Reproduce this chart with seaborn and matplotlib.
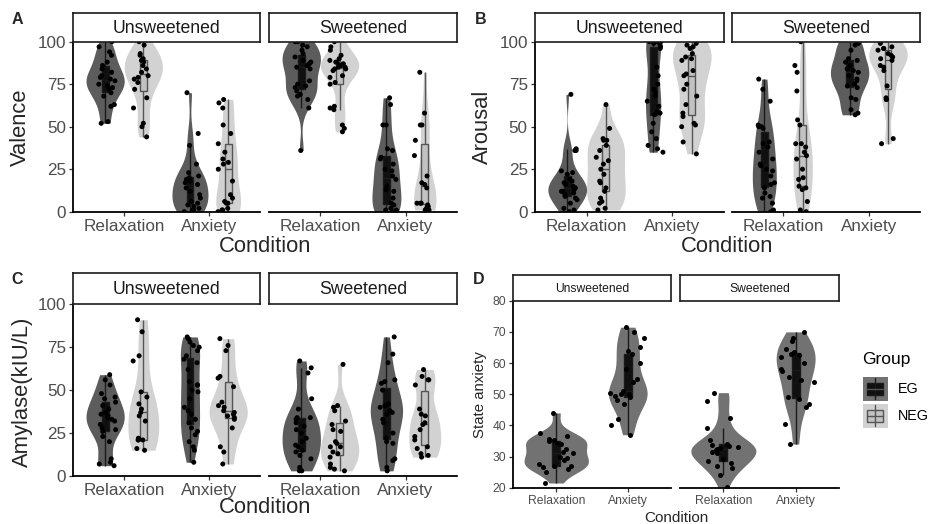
import numpy as np
import pandas as pd
import matplotlib
matplotlib.use('Agg')
import matplotlib.pyplot as plt
from matplotlib.patches import Rectangle
import seaborn as sns

conditions = ['Relaxation', 'Anxiety']
sweeteners = ['Unsweetened', 'Sweetened']
groups = ['EG', 'NEG']

# ---------------- Panel A: Valence ----------------
val_uns_rel_eg = [100, 97, 94, 92, 88, 86, 84, 82, 80, 79, 78, 77, 75, 74, 73, 72, 70, 68, 63, 62, 53, 52]
val_uns_rel_neg = [100, 98, 93, 92, 90, 89, 88, 86, 84, 82, 80, 79, 78, 76, 72, 67, 61, 52, 50, 44]
val_uns_anx_eg = [70, 46, 39, 28, 23, 21, 20, 19, 18, 17, 16, 14, 12, 10, 8, 6, 5, 4, 3, 2, 1, 1, 0]
val_uns_anx_neg = [66, 64, 61, 51, 46, 40, 35, 31, 29, 28, 25, 18, 10, 8, 6, 5, 5, 2, 1, 1, 0]
val_swe_rel_eg = [100, 100, 98, 97, 95, 93, 91, 89, 88, 87, 86, 85, 84, 77, 75, 74, 73, 71, 69, 68, 66, 61, 36]
val_swe_rel_neg = [100, 97, 95, 92, 90, 89, 88, 88, 87, 86, 86, 85, 85, 84, 84, 83, 80, 79, 76, 75, 62, 61, 60, 51, 49, 47]
val_swe_anx_eg = [67, 63, 51, 51, 37, 36, 32, 31, 28, 25, 24, 21, 19, 15, 13, 12, 8, 5, 4, 2, 1, 1, 0, 0]
val_swe_anx_neg = [82, 58, 51, 51, 42, 33, 21, 17, 16, 14, 5, 5, 5, 4, 3, 2, 1, 1]

# ---------------- Panel B: Arousal ----------------
aro_uns_rel_eg = [69, 37, 36, 36, 24, 23, 22, 19, 18, 17, 16, 15, 14, 14, 13, 12, 12, 11, 10, 9, 8, 7, 5, 2, 1, 0]
aro_uns_rel_neg = [63, 49, 43, 42, 42, 39, 36, 32, 30, 28, 25, 22, 18, 17, 14, 12, 8, 6, 5, 2, 1]
aro_uns_anx_eg = [100, 100, 100, 100, 99, 98, 97, 96, 85, 80, 75, 72, 70, 68, 65, 62, 59, 58, 57, 52, 47, 43, 39, 37, 35]
aro_uns_anx_neg = [100, 99, 98, 97, 96, 93, 91, 90, 89, 83, 81, 80, 75, 72, 68, 63, 58, 56, 52, 51, 50, 41, 34]
aro_swe_rel_eg = [78, 72, 65, 51, 50, 50, 49, 41, 40, 38, 35, 31, 28, 27, 25, 24, 21, 17, 16, 14, 11, 9, 8, 5, 1, 0]
aro_swe_rel_neg = [100, 86, 82, 71, 54, 51, 40, 40, 38, 35, 33, 31, 25, 20, 19, 15, 14, 13, 6, 1, 0]
aro_swe_anx_eg = [100, 100, 99, 98, 95, 90, 89, 88, 86, 84, 83, 82, 80, 78, 77, 75, 74, 73, 67, 66, 60, 58, 57]
aro_swe_anx_neg = [100, 99, 97, 96, 96, 95, 93, 92, 91, 90, 89, 86, 85, 83, 74, 67, 66, 66, 43, 40]

# ---------------- Panel C: Amylase ----------------
amy_uns_rel_eg = [59, 56, 53, 48, 46, 45, 43, 41, 39, 37, 36, 35, 34, 33, 32, 30, 28, 27, 26, 23, 20, 10, 8, 7, 6]
amy_uns_rel_neg = [91, 84, 70, 67, 49, 46, 42, 39, 37, 35, 32, 22, 21, 21, 21, 16, 15]
amy_uns_anx_eg = [81, 80, 78, 76, 75, 73, 70, 68, 66, 62, 55, 53, 53, 50, 49, 45, 40, 38, 36, 33, 31, 28, 26, 24, 20, 17, 15, 8]
amy_uns_anx_neg = [80, 76, 73, 58, 57, 52, 43, 41, 40, 38, 37, 36, 35, 34, 33, 28, 17, 14, 7]
amy_swe_rel_eg = [67, 63, 60, 45, 39, 34, 34, 33, 31, 29, 27, 25, 22, 20, 18, 17, 15, 14, 12, 10, 5, 3, 3]
amy_swe_rel_neg = [65, 41, 40, 38, 32, 30, 27, 26, 20, 19, 17, 17, 14, 13, 11, 7, 5, 4, 3]
amy_swe_anx_eg = [81, 71, 66, 56, 55, 54, 50, 42, 41, 41, 40, 38, 37, 36, 33, 31, 25, 22, 20, 19, 10, 9, 5, 3]
amy_swe_anx_neg = [62, 58, 56, 56, 53, 39, 36, 35, 31, 30, 27, 23, 21, 17, 16, 13, 12, 11]

# ---------------- Panel D: State anxiety (EG only) ----------------
sta_uns_rel_eg = [44, 37.5, 36.5, 35.5, 35.2, 35, 34.5, 34, 32.5, 31.5, 31, 30, 29.5, 29, 27.5, 27, 27, 26.5, 26, 25, 21.5]
sta_uns_anx_eg = [71.5, 70, 68, 65, 64, 63, 60, 58, 55, 54, 51, 50.5, 50, 50, 49.5, 49, 48, 47, 42, 40, 37]
sta_swe_rel_eg = [50.5, 47.8, 42.3, 39, 35.2, 34, 33.6, 33.3, 33, 32.7, 32.3, 32, 31.5, 31, 29.3, 28.5, 28, 27, 26.3, 24, 20.2]
sta_swe_anx_eg = [70, 68, 67, 64.5, 63.5, 63, 62.5, 62, 60, 58, 57.5, 55.5, 54.5, 54, 49, 48.5, 47, 46, 40.5, 34]


def frame(series):
    rows = []
    for (sw, cond, grp), vals in series.items():
        for v in vals:
            rows.append((sw, cond, grp, v))
    return pd.DataFrame(rows, columns=['Sweetener', 'Condition', 'Group', 'value'])


df_val = frame({
    ('Unsweetened', 'Relaxation', 'EG'): val_uns_rel_eg, ('Unsweetened', 'Relaxation', 'NEG'): val_uns_rel_neg,
    ('Unsweetened', 'Anxiety', 'EG'): val_uns_anx_eg, ('Unsweetened', 'Anxiety', 'NEG'): val_uns_anx_neg,
    ('Sweetened', 'Relaxation', 'EG'): val_swe_rel_eg, ('Sweetened', 'Relaxation', 'NEG'): val_swe_rel_neg,
    ('Sweetened', 'Anxiety', 'EG'): val_swe_anx_eg, ('Sweetened', 'Anxiety', 'NEG'): val_swe_anx_neg})
df_aro = frame({
    ('Unsweetened', 'Relaxation', 'EG'): aro_uns_rel_eg, ('Unsweetened', 'Relaxation', 'NEG'): aro_uns_rel_neg,
    ('Unsweetened', 'Anxiety', 'EG'): aro_uns_anx_eg, ('Unsweetened', 'Anxiety', 'NEG'): aro_uns_anx_neg,
    ('Sweetened', 'Relaxation', 'EG'): aro_swe_rel_eg, ('Sweetened', 'Relaxation', 'NEG'): aro_swe_rel_neg,
    ('Sweetened', 'Anxiety', 'EG'): aro_swe_anx_eg, ('Sweetened', 'Anxiety', 'NEG'): aro_swe_anx_neg})
df_amy = frame({
    ('Unsweetened', 'Relaxation', 'EG'): amy_uns_rel_eg, ('Unsweetened', 'Relaxation', 'NEG'): amy_uns_rel_neg,
    ('Unsweetened', 'Anxiety', 'EG'): amy_uns_anx_eg, ('Unsweetened', 'Anxiety', 'NEG'): amy_uns_anx_neg,
    ('Sweetened', 'Relaxation', 'EG'): amy_swe_rel_eg, ('Sweetened', 'Relaxation', 'NEG'): amy_swe_rel_neg,
    ('Sweetened', 'Anxiety', 'EG'): amy_swe_anx_eg, ('Sweetened', 'Anxiety', 'NEG'): amy_swe_anx_neg})
df_sta = frame({
    ('Unsweetened', 'Relaxation', 'EG'): sta_uns_rel_eg, ('Unsweetened', 'Anxiety', 'EG'): sta_uns_anx_eg,
    ('Sweetened', 'Relaxation', 'EG'): sta_swe_rel_eg, ('Sweetened', 'Anxiety', 'EG'): sta_swe_anx_eg})

# ---------------- styling ----------------
sns.set_style('white')
plt.rcParams['font.family'] = ['Liberation Sans', 'DejaVu Sans']

VIO = {'EG': '#5c5c5c', 'NEG': '#d2d2d2'}
BOX = {'EG': '#101010', 'NEG': '#c2c2c2'}
BOX_EDGE = {'EG': '#1a1a1a', 'NEG': '#555555'}
VIO_D = '#727272'

W, H = 933, 524
fig = plt.figure(figsize=(W / 100, H / 100), dpi=100)


def px_axes(x0, y0, x1, y1):
    return fig.add_axes([x0 / W, 1 - y1 / H, (x1 - x0) / W, (y1 - y0) / H])


def draw_panel(df, facets, strip_y, plot_y, ylim, yticks, big, hue, seed):
    tick_fs = 12.3 if big else 8.7
    strip_fs = 12.7 if big else 8.7
    for i, (sw, (x0, x1)) in enumerate(zip(sweeteners, facets)):
        ax = px_axes(x0, plot_y[0], x1, plot_y[1])
        sub = df[df.Sweetener == sw]
        if hue:
            sns.violinplot(data=sub, x='Condition', y='value', hue='Group', order=conditions,
                           hue_order=groups, palette=VIO, width=0.9, cut=0, density_norm='area',
                           inner=None, linewidth=0, saturation=1, bw_adjust=0.85, dodge=True,
                           legend=False, ax=ax)
            for g in groups:
                sns.boxplot(data=sub[sub.Group == g], x='Condition', y='value', hue='Group',
                            order=conditions, hue_order=groups, palette=BOX, width=0.9, gap=0.82,
                            dodge=True, showfliers=False, linewidth=1.0, linecolor=BOX_EDGE[g],
                            saturation=1, legend=False, capprops={'linewidth': 0}, ax=ax)
            np.random.seed(seed + i)
            sns.stripplot(data=sub, x='Condition', y='value', hue='Group', order=conditions,
                          hue_order=groups, palette={'EG': 'black', 'NEG': 'black'}, dodge=True,
                          jitter=0.2, size=3.6, linewidth=0, legend=False, zorder=3, ax=ax)
        else:
            sns.violinplot(data=sub, x='Condition', y='value', order=conditions, color=VIO_D,
                           width=0.9, cut=0, density_norm='area', inner=None, linewidth=0,
                           saturation=1, bw_adjust=0.85, ax=ax)
            sns.boxplot(data=sub, x='Condition', y='value', order=conditions, color=BOX['EG'],
                        width=0.11, showfliers=False, linewidth=1.0, linecolor='#1a1a1a',
                        saturation=1, capprops={'linewidth': 0}, ax=ax)
            np.random.seed(seed + i)
            sns.stripplot(data=sub, x='Condition', y='value', order=conditions, color='black',
                          jitter=0.25, size=3.6, linewidth=0, zorder=3, ax=ax)
        ax.set_xlim(-0.6, 1.6)
        ax.set_ylim(*ylim)
        ax.set_yticks(yticks)
        ax.set_xlabel('')
        ax.set_ylabel('')
        ax.set_facecolor('none')
        for s in ['top', 'right']:
            ax.spines[s].set_visible(False)
        for s in ['bottom', 'left']:
            ax.spines[s].set_linewidth(1.3)
            ax.spines[s].set_color('black')
        ax.tick_params(axis='both', length=3.2, width=0.9, color='#333333',
                       labelcolor='#4d4d4d', labelsize=tick_fs, pad=2)
        ax.tick_params(axis='x', bottom=True)
        ax.tick_params(axis='y', left=True)
        if i == 1:
            ax.spines['left'].set_visible(False)
            ax.tick_params(axis='y', left=False, labelleft=False)
        # strip
        sax = px_axes(x0, strip_y[0], x1, strip_y[1])
        sax.set_xticks([])
        sax.set_yticks([])
        sax.set_facecolor('white')
        for s in sax.spines.values():
            s.set_visible(True)
            s.set_linewidth(1.2)
            s.set_color('#1a1a1a')
        sax.text(0.5, 0.47, sw, ha='center', va='center', fontsize=strip_fs, color='#1a1a1a',
                 transform=sax.transAxes)
    return (facets[0][0] + facets[1][1]) / 2


# Panel A
xcA = draw_panel(df_val, [(73.3, 260), (269.3, 456.7)], (13.3, 41.7), (41.7, 211.7),
                 (0, 100), [0, 25, 50, 75, 100], True, True, 10)
fig.text(20 / W, 1 - 127 / H, 'Valence', rotation=90, ha='center', va='center', fontsize=15.8)
fig.text(xcA / W, 1 - 252 / H, 'Condition', ha='center', va='baseline', fontsize=15.8)
fig.text(17 / W, 1 - 20 / H, 'A', ha='center', va='center', fontsize=11.5, fontweight='bold')

# Panel B
xcB = draw_panel(df_aro, [(535, 724), (732.3, 920)], (13.3, 41.7), (41.7, 211.7),
                 (0, 100), [0, 25, 50, 75, 100], True, True, 20)
fig.text(482 / W, 1 - 127 / H, 'Arousal', rotation=90, ha='center', va='center', fontsize=15.8)
fig.text(xcB / W, 1 - 252 / H, 'Condition', ha='center', va='baseline', fontsize=15.8)
fig.text(481 / W, 1 - 20 / H, 'B', ha='center', va='center', fontsize=11.5, fontweight='bold')

# Panel C
xcC = draw_panel(df_amy, [(73.3, 260), (269.3, 456.7)], (273.3, 304.3), (304.3, 476),
                 (0, 100), [0, 25, 50, 75, 100], True, True, 30)
fig.text(22 / W, 1 - 392 / H, 'Amylase(kIU/L)', rotation=90, ha='center', va='center', fontsize=15.8)
fig.text(xcC / W, 1 - 513 / H, 'Condition', ha='center', va='baseline', fontsize=15.8)
fig.text(17 / W, 1 - 280 / H, 'C', ha='center', va='center', fontsize=11.5, fontweight='bold')

# Panel D
xcD = draw_panel(df_sta, [(513.3, 670.7), (680, 839)], (275, 300.7), (300.7, 487.7),
                 (20, 80), [20, 30, 40, 50, 60, 70, 80], False, False, 40)
fig.text(479.5 / W, 1 - 395 / H, 'State anxiety', rotation=90, ha='center', va='center', fontsize=10.8)
fig.text(xcD / W, 1 - 522 / H, 'Condition', ha='center', va='baseline', fontsize=11)
fig.text(479 / W, 1 - 279 / H, 'D', ha='center', va='center', fontsize=11.5, fontweight='bold')

# Legend (Group)
lax = px_axes(850, 340, 933, 440)
lax.set_xlim(850, 933)
lax.set_ylim(440, 340)
lax.axis('off')
lax.text(862, 360, 'Group', ha='left', va='center', fontsize=12.5, color='black')
for (g, y0, lab) in [('EG', 377, 'EG'), ('NEG', 404, 'NEG')]:
    bg = VIO_D if g == 'EG' else VIO['NEG']
    lax.add_patch(Rectangle((863, y0), 25, 24, facecolor=bg, edgecolor='none'))
    lax.plot([875.5, 875.5], [y0 + 1.5, y0 + 22.5], color=BOX_EDGE[g], lw=1.0)
    lax.add_patch(Rectangle((867.5, y0 + 6), 16, 12, facecolor=BOX[g], edgecolor=BOX_EDGE[g], lw=1.0))
    lax.plot([867.5, 883.5], [y0 + 12, y0 + 12], color='#555555', lw=1.0)
    lax.text(898, y0 + 12, lab, ha='left', va='center', fontsize=10.3, color='black')

fig.savefig('out.png', dpi=100)
